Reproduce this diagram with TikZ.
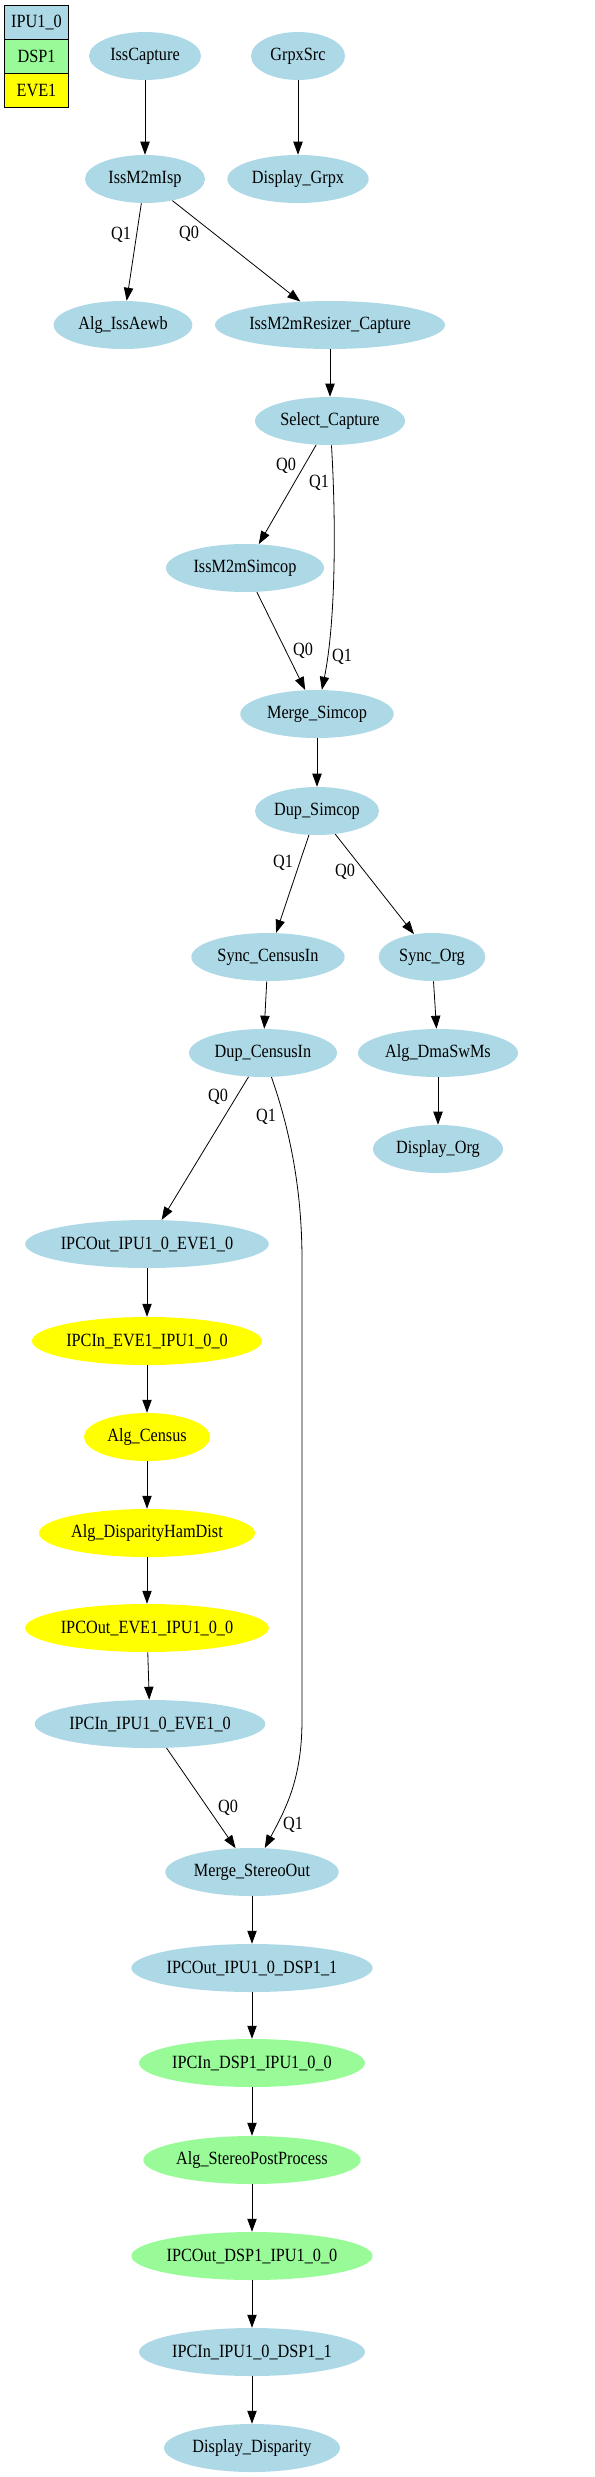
\documentclass[tikz,border=0pt]{standalone}
\usepackage{fontspec}
\setmainfont{Liberation Serif}[FakeStretch = 0.87]
\usetikzlibrary{shapes.geometric, arrows.meta}
\definecolor{ipu}{RGB}{173, 216, 230}
\definecolor{dsp}{RGB}{152, 251, 152}
\definecolor{eve}{RGB}{255, 255, 0}
\tikzset{
  task/.style = {ellipse, fill = ipu, inner sep = 0pt, minimum height = 36pt},
  legendbox/.style = {draw, line width = 0.75pt, minimum width = 47.5pt,
    minimum height = 25.5pt, inner sep = 0pt},
  flow/.style = {line width = 0.6pt, -{Triangle[length = 9.75pt, width = 7pt]}},
  qlabel/.style = {inner sep = 0pt}
}
\begin{document}
\begin{tikzpicture}[x = 0.75pt, y = -0.75pt, font = \fontsize{14}{16}\selectfont]
\useasboundingbox (0, 0) rectangle (595, 2477);

\node (legIpu) at (36.5, 22.5) [legendbox, fill = ipu] {IPU1\_0};
\node (legDsp) at (36.5, 56.5) [legendbox, fill = dsp] {DSP1};
\node (legEve) at (36.5, 90.5) [legendbox, fill = eve] {EVE1};

\node (issCap) at (145, 56) [task, minimum width = 84pt] {IssCapture};
\node (grpxSrc) at (298, 56) [task, minimum width = 70.5pt] {GrpxSrc};
\node (issIsp) at (145, 179) [task, minimum width = 90pt] {IssM2mIsp};
\node (dispGrpx) at (298, 179) [task, minimum width = 106pt] {Display\_Grpx};
\node (algAewb) at (123, 325) [task, minimum width = 104pt] {Alg\_IssAewb};
\node (issRsz) at (330, 325) [task, minimum width = 172.5pt] {IssM2mResizer\_Capture};
\node (selCap) at (330, 421) [task, minimum width = 112.5pt] {Select\_Capture};
\node (issSim) at (245, 568) [task, minimum width = 118.5pt] {IssM2mSimcop};
\node (mrgSim) at (317, 714) [task, minimum width = 115pt] {Merge\_Simcop};
\node (dupSim) at (317, 811) [task, minimum width = 93pt] {Dup\_Simcop};
\node (syncCen) at (268, 957) [task, minimum width = 115pt] {Sync\_CensusIn};
\node (syncOrg) at (432, 957) [task, minimum width = 80pt] {Sync\_Org};
\node (dupCen) at (263, 1053) [task, minimum width = 111pt] {Dup\_CensusIn};
\node (algDma) at (438, 1053) [task, minimum width = 120pt] {Alg\_DmaSwMs};
\node (dispOrg) at (438, 1149) [task, minimum width = 97.5pt] {Display\_Org};
\node (outIpuEve) at (147, 1244) [task, minimum width = 181.5pt] {IPCOut\_IPU1\_0\_EVE1\_0};
\node (inEveIpu) at (147, 1341) [task, fill = eve, minimum width = 172.5pt] {IPCIn\_EVE1\_IPU1\_0\_0};
\node (algCen) at (147, 1437) [task, fill = eve, minimum width = 94.5pt] {Alg\_Census};
\node (algHam) at (147, 1533) [task, fill = eve, minimum width = 162pt] {Alg\_DisparityHamDist};
\node (outEveIpu) at (147, 1628) [task, fill = eve, minimum width = 181.5pt] {IPCOut\_EVE1\_IPU1\_0\_0};
\node (inIpuEve) at (150, 1724) [task, minimum width = 173pt] {IPCIn\_IPU1\_0\_EVE1\_0};
\node (mrgSte) at (252, 1872) [task, minimum width = 130pt] {Merge\_StereoOut};
\node (outIpuDsp) at (252, 1968) [task, minimum width = 179pt] {IPCOut\_IPU1\_0\_DSP1\_1};
\node (inDspIpu) at (252, 2063) [task, fill = dsp, minimum width = 169pt] {IPCIn\_DSP1\_IPU1\_0\_0};
\node (algPost) at (252, 2160) [task, fill = dsp, minimum width = 163pt] {Alg\_StereoPostProcess};
\node (outDspIpu) at (252, 2256) [task, fill = dsp, minimum width = 179pt] {IPCOut\_DSP1\_IPU1\_0\_0};
\node (inIpuDsp) at (252, 2352) [task, minimum width = 169pt] {IPCIn\_IPU1\_0\_DSP1\_1};
\node (dispDisp) at (252, 2448) [task, minimum width = 132pt] {Display\_Disparity};

\draw [flow] (issCap) to (issIsp);
\draw [flow] (grpxSrc) to (dispGrpx);
\draw [flow] (issIsp) to (algAewb);
\draw [flow] (issIsp) to (issRsz);
\draw [flow] (issRsz) to (selCap);
\draw [flow] (selCap) to (issSim);
\draw [flow] (selCap) .. controls (336, 520) and (336, 620) .. (mrgSim);
\draw [flow] (issSim) to (mrgSim);
\draw [flow] (mrgSim) to (dupSim);
\draw [flow] (dupSim) to (syncCen);
\draw [flow] (dupSim) to (syncOrg);
\draw [flow] (syncCen) to (dupCen);
\draw [flow] (syncOrg) to (algDma);
\draw [flow] (algDma) to (dispOrg);
\draw [flow] (dupCen) to (outIpuEve);
\draw [flow] (dupCen) .. controls (290, 1130) and (302, 1190) .. (302, 1260)
  -- (302, 1720) .. controls (302, 1780) and (285, 1810) .. (mrgSte);
\draw [flow] (outIpuEve) to (inEveIpu);
\draw [flow] (inEveIpu) to (algCen);
\draw [flow] (algCen) to (algHam);
\draw [flow] (algHam) to (outEveIpu);
\draw [flow] (outEveIpu) to (inIpuEve);
\draw [flow] (inIpuEve) to (mrgSte);
\draw [flow] (mrgSte) to (outIpuDsp);
\draw [flow] (outIpuDsp) to (inDspIpu);
\draw [flow] (inDspIpu) to (algPost);
\draw [flow] (algPost) to (outDspIpu);
\draw [flow] (outDspIpu) to (inIpuDsp);
\draw [flow] (inIpuDsp) to (dispDisp);

\node (qIspAewb) at (121, 235) [qlabel] {Q1};
\node (qIspRsz) at (189, 234) [qlabel] {Q0};
\node (qSelSim) at (286, 466) [qlabel] {Q0};
\node (qSelMrg) at (319, 483) [qlabel] {Q1};
\node (qSimMrg) at (303, 651) [qlabel] {Q0};
\node (qMrgIn) at (342, 657) [qlabel] {Q1};
\node (qDupCen) at (283, 863) [qlabel] {Q1};
\node (qDupOrg) at (345, 872) [qlabel] {Q0};
\node (qCenOut) at (218, 1097) [qlabel] {Q0};
\node (qCenMrg) at (266, 1117) [qlabel] {Q1};
\node (qEveMrg) at (228, 1808) [qlabel] {Q0};
\node (qSteIn) at (293, 1825) [qlabel] {Q1};
\end{tikzpicture}
\end{document}
